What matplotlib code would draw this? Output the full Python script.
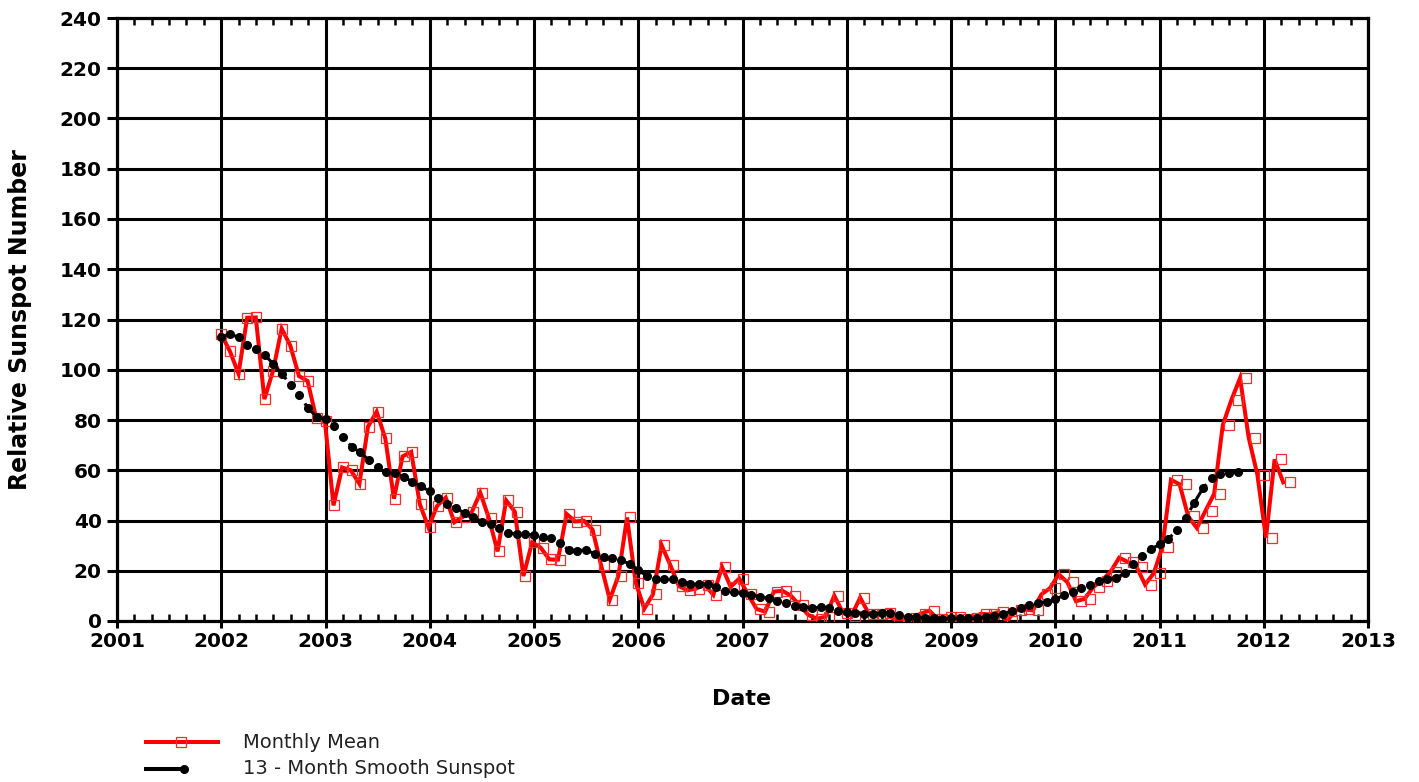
import numpy as np
import matplotlib
matplotlib.use("Agg")
import matplotlib.pyplot as plt
from matplotlib.lines import Line2D
from matplotlib.ticker import MultipleLocator

# ---- data (Jan 2002 .. Apr 2012) ----
start_year = 2002
monthly_mean = [
    114.1, 107.4, 98.4, 120.7, 120.8, 88.3, 99.6, 116.4, 109.6, 97.5, 95.5, 80.8,   # 2002
    79.7, 46.0, 61.1, 60.0, 54.6, 77.4, 83.3, 72.7, 48.7, 65.5, 67.3, 46.5,         # 2003
    37.3, 45.8, 49.1, 39.3, 41.5, 43.2, 51.1, 40.9, 27.7, 48.0, 43.5, 17.9,         # 2004
    31.3, 29.2, 24.5, 24.4, 42.6, 39.6, 39.9, 36.4, 22.1, 8.5, 18.0, 41.2,          # 2005
    15.3, 4.9, 10.6, 30.2, 22.3, 13.9, 12.2, 12.9, 14.4, 10.4, 21.5, 13.6,          # 2006
    16.9, 10.6, 4.8, 3.7, 11.7, 12.0, 10.0, 6.2, 2.4, 0.9, 1.7, 10.1,               # 2007
    3.3, 2.1, 9.3, 2.9, 2.9, 3.1, 0.5, 0.5, 1.1, 2.9, 4.1, 0.8,                     # 2008
    1.5, 1.4, 0.7, 1.2, 2.9, 2.6, 3.5, 0.0, 4.2, 4.6, 4.2, 10.6,                    # 2009
    13.1, 18.6, 15.4, 7.9, 8.8, 13.5, 16.1, 19.6, 25.2, 23.5, 21.6, 14.5,           # 2010
    19.0, 29.4, 56.2, 54.4, 41.6, 37.0, 43.9, 50.6, 78.0, 88.0, 96.7, 73.0,         # 2011
    58.3, 33.1, 64.3, 55.2,                                                         # 2012
]
smoothed = [
    113.2, 114.2, 112.9, 109.8, 108.1, 105.9, 102.3, 98.3, 93.9, 89.9, 84.6, 81.3,  # 2002
    80.4, 77.7, 73.4, 69.4, 67.1, 64.1, 61.4, 59.4, 58.8, 57.4, 55.4, 53.6,         # 2003
    51.6, 48.8, 46.6, 44.8, 43.1, 41.5, 39.5, 38.6, 36.9, 35.1, 34.6, 34.5,         # 2004
    34.2, 33.6, 32.9, 30.9, 28.3, 28.0, 28.3, 26.7, 25.3, 24.9, 24.3, 22.7,         # 2005
    20.3, 17.9, 16.6, 16.6, 16.6, 15.6, 14.7, 14.7, 14.7, 13.4, 11.9, 11.4,         # 2006
    11.0, 10.3, 9.7, 9.0, 8.1, 7.0, 6.1, 5.7, 5.3, 5.4, 5.0, 4.1,                   # 2007
    3.5, 3.1, 2.8, 2.8, 3.0, 3.0, 2.2, 1.7, 1.5, 1.3, 1.0, 0.9,                     # 2008
    1.1, 1.1, 1.1, 1.2, 1.4, 2.0, 2.8, 4.1, 5.3, 6.4, 7.3, 7.7,                     # 2009
    8.6, 10.3, 11.7, 13.2, 14.5, 15.9, 16.6, 17.0, 19.2, 22.7, 25.9, 28.5,          # 2010
    30.5, 32.6, 36.2, 40.9, 47.1, 52.8, 56.8, 58.5, 59.0, 59.4,                     # 2011
]
year_ticks = list(range(2001, 2014))
y_ticks = list(range(0, 241, 20))

# ---- dates ----
n_m = len(monthly_mean)
marker_x = start_year + np.arange(n_m) / 12.0
line_x = start_year + np.arange(n_m) * 30.25 / 365.25   # line drawn on day-based dates
smooth_x = start_year + np.arange(len(smoothed)) / 12.0

W, H, DPI = 1419, 782, 100
fig = plt.figure(figsize=(W / DPI, H / DPI), dpi=DPI)
ax = fig.add_axes([117 / W, 1 - 621 / H, (1368 - 117) / W, (621 - 18) / H])

ax.set_xlim(2001, 2013)
ax.set_ylim(0, 240)
ax.set_xticks(year_ticks)
ax.set_yticks(y_ticks)
ax.xaxis.set_minor_locator(MultipleLocator(2 / 12))
ax.grid(True, which="major", color="black", linewidth=2.2, zorder=0)
ax.set_axisbelow(True)
for s in ax.spines.values():
    s.set_linewidth(2.3)

ax.tick_params(axis="x", which="major", direction="out", length=5, width=2.2,
               labelsize=14.5, pad=3)
ax.tick_params(axis="y", which="major", direction="out", length=7, width=2.2,
               labelsize=14.5, pad=4)
ax.tick_params(axis="x", which="minor", direction="in", length=5, width=1.8,
               top=True, bottom=True)
for lab in ax.get_xticklabels() + ax.get_yticklabels():
    lab.set_fontweight("bold")

# monthly mean: line + open squares
ax.plot(line_x, monthly_mean, color="#ff0000", linewidth=2.9, zorder=3,
        solid_joinstyle="miter")
ax.plot(marker_x, monthly_mean, linestyle="none", marker="s", markersize=7.8,
        markerfacecolor="none", markeredgecolor="#ff2a2a", markeredgewidth=0.9,
        zorder=4)

# smoothed: dashed black line + dots
ax.plot(smooth_x, smoothed, color="black", linewidth=2.2,
        linestyle=(3, (10, 10)), zorder=5)
ax.plot(smooth_x, smoothed, linestyle="none", marker="o", markersize=5.5,
        color="black", zorder=6)

ax.set_xlabel("Date", fontsize=16, fontweight="bold")
ax.set_ylabel("Relative Sunspot Number", fontsize=17, fontweight="bold")
ax.xaxis.set_label_coords(0.4995, -0.112)
ax.yaxis.set_label_coords(-0.068, 0.5)

# manual legend below the chart
ft = fig.transFigure
y1 = 1 - 742 / H
y2 = 1 - 769 / H
fig.add_artist(Line2D([146 / W, 218 / W], [y1, y1], transform=ft,
                      color="#ff0000", linewidth=2.9))
fig.add_artist(Line2D([181 / W], [y1], transform=ft, linestyle="none", marker="s",
                      markersize=7.5, markerfacecolor="none",
                      markeredgecolor="#ff2a2a", markeredgewidth=0.9))
fig.add_artist(Line2D([146 / W, 184 / W], [y2, y2], transform=ft,
                      color="black", linewidth=2.9))
fig.add_artist(Line2D([184 / W], [y2], transform=ft, linestyle="none", marker="o",
                      markersize=5.5, color="black"))
fig.text(243 / W, y1, "Monthly Mean", fontsize=14, va="center", ha="left",
         color="#222222")
fig.text(243 / W, y2, "13 - Month Smooth Sunspot", fontsize=14, va="center",
         ha="left", color="#222222")

fig.savefig("out.png", dpi=DPI)
